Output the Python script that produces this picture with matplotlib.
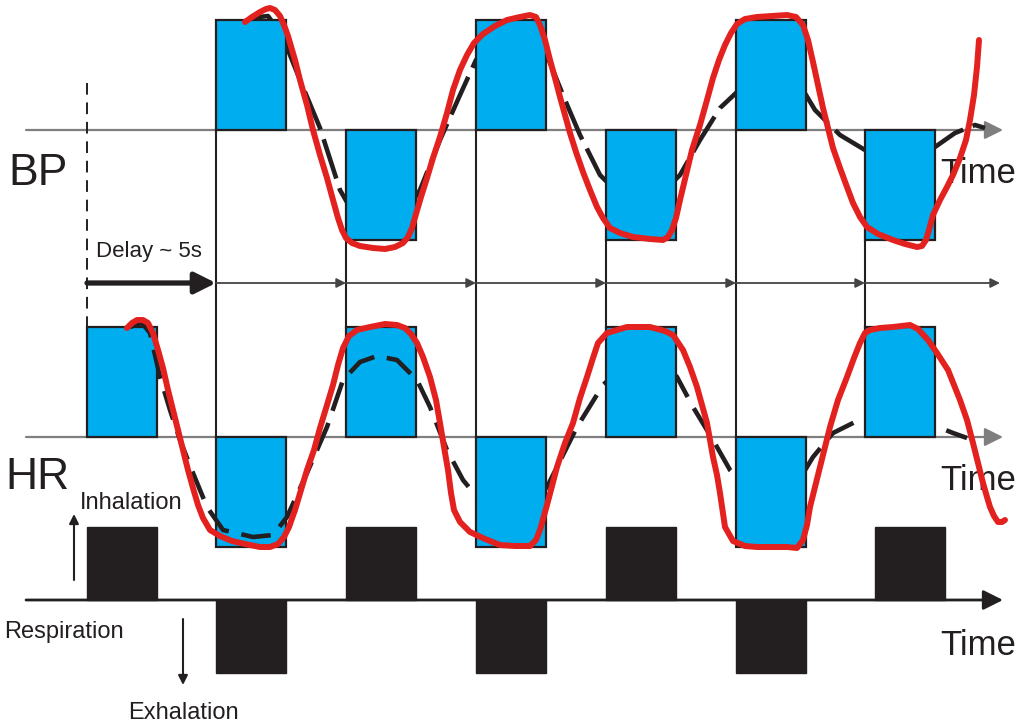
import matplotlib
matplotlib.use("Agg")
import matplotlib.pyplot as plt

plt.rcParams['font.family'] = ['Liberation Sans', 'DejaVu Sans']

# bar start positions (left edges) and direction (+1 up, -1 down)
bp_start = [216, 346, 476, 606, 736, 865]
bp_sign = [1, -1, 1, -1, 1, -1]
hr_start = [87, 216, 346, 476, 606, 736, 865]
hr_sign = [1, -1, 1, -1, 1, -1, 1]
resp_start = [87, 216, 346, 476, 606, 736, 875]
resp_sign = [1, -1, 1, -1, 1, -1, 1]

# traced curves
bp_dash_x = [250, 268, 282, 300, 320, 340, 360, 380, 400, 420, 440, 460, 476, 495, 510, 530, 548,
             565, 580, 600, 620, 640, 660, 680, 700, 720, 736, 760, 780, 800, 815, 840, 865, 890,
             915, 935, 955, 975, 985]
bp_dash_y = [18, 16, 35, 80, 128, 190, 225, 232, 222, 190, 140, 95, 60, 35, 28, 35, 58,
             100, 135, 175, 195, 200, 195, 175, 140, 108, 93, 75, 72, 85, 110, 135, 150, 160,
             158, 147, 133, 125, 128]
bp_red_x = [245, 252, 260, 266, 270, 275, 280, 284, 288, 295, 300, 307, 313, 320, 327, 333, 338,
            342, 346, 352, 360, 373, 385, 395, 403, 408, 412, 416, 421, 427, 433, 440, 447, 453,
            460, 467, 474, 483, 495, 507, 520, 530, 536, 540, 545, 550, 555, 560, 565, 570, 576,
            583, 590, 597, 603, 610, 620, 633, 650, 663, 668, 672, 676, 680, 686, 692, 700, 707,
            713, 719, 725, 731, 737, 745, 757, 772, 787, 796, 803, 808, 813, 818, 823, 828, 833,
            840, 847, 853, 860, 867, 878, 893, 905, 917, 922, 926, 929, 933, 940, 947, 953, 960,
            966, 970, 974, 977, 979]
bp_red_y = [22, 17, 12, 9, 8, 10, 16, 25, 36, 60, 80, 105, 130, 155, 178, 200, 218,
            230, 238, 243, 246, 248, 249, 247, 243, 237, 228, 214, 197, 178, 158, 137, 113, 90,
            70, 55, 43, 34, 26, 20, 17, 15, 17, 25, 40, 60, 78, 97, 115, 133, 152,
            172, 190, 207, 218, 228, 233, 237, 239, 240, 237, 230, 218, 200, 175, 150, 125, 100,
            78, 60, 45, 33, 24, 19, 17, 16, 15, 17, 25, 40, 62, 85, 108, 128, 148,
            168, 187, 203, 217, 227, 234, 240, 244, 247, 246, 240, 230, 215, 200, 187, 175, 158,
            140, 120, 95, 67, 40]
hr_dash_x = [130, 142, 150, 160, 170, 180, 193, 207, 223, 253, 273, 287, 307, 327, 343, 360, 377,
             397, 417, 430, 447, 463, 477, 500, 520, 547, 577, 603, 630, 655, 677, 693, 713, 730,
             760, 790, 813, 833, 853, 865, 900, 933, 953, 967]
hr_dash_y = [327, 323, 333, 377, 410, 440, 473, 507, 530, 537, 535, 517, 473, 427, 380, 362, 356,
             360, 380, 407, 450, 480, 497, 520, 520, 487, 427, 385, 360, 355, 377, 407, 440, 470,
             500, 495, 457, 433, 423, 417, 412, 425, 433, 438]
hr_red_x = [127, 132, 137, 143, 148, 153, 158, 163, 168, 173, 178, 183, 188, 193, 198, 203, 210,
            220, 232, 245, 260, 270, 278, 284, 289, 295, 301, 307, 314, 320, 327, 333, 338, 343,
            349, 357, 370, 385, 397, 405, 411, 417, 423, 430, 436, 440, 444, 448, 451, 454, 460,
            470, 485, 500, 515, 530, 536, 540, 547, 557, 565, 573, 580, 587, 593, 598, 607, 627,
            650, 665, 673, 683, 690, 697, 702, 707, 713, 717, 720, 725, 733, 745, 757, 772, 787,
            797, 803, 807, 810, 815, 820, 825, 830, 838, 847, 854, 860, 865, 870, 880, 893, 910,
            918, 928, 937, 948, 960, 967, 973, 978, 983, 987, 990, 994, 998, 1002, 1005]
hr_red_y = [328, 323, 320, 320, 323, 333, 350, 368, 390, 410, 430, 450, 470, 488, 505, 518, 530,
            536, 541, 544, 547, 547, 544, 537, 527, 510, 490, 470, 450, 428, 405, 385, 365, 348,
            336, 330, 327, 324, 325, 328, 334, 343, 357, 377, 400, 423, 447, 470, 493, 510, 522,
            532, 539, 545, 546, 546, 540, 530, 505, 467, 443, 423, 398, 377, 358, 343, 333, 327,
            327, 331, 335, 350, 367, 387, 405, 423, 457, 475, 493, 527, 541, 546, 547, 547, 547,
            548, 540, 525, 507, 487, 467, 447, 427, 400, 377, 358, 343, 333, 330, 328, 327, 325,
            329, 340, 353, 370, 400, 420, 443, 463, 483, 497, 507, 516, 522, 522, 520]

blue = '#00adee'
edge = '#231f20'
red = '#e3211f'
bar_w = 70
bp_base, bp_amp = 130, 110
hr_base, hr_amp = 437, 110
resp_base, resp_amp = 600, 73

fig = plt.figure(figsize=(10.24, 7.24), dpi=100)
ax = fig.add_axes([0, 0, 1, 1])
ax.set_xlim(0, 1024)
ax.set_ylim(724, 0)
ax.axis('off')

# baselines with arrows
for yb in [bp_base, hr_base]:
    ax.annotate('', xy=(1003, yb), xytext=(26, yb),
                arrowprops=dict(arrowstyle='-|>', color='#7f7f7f', lw=1.6, mutation_scale=28,
                                shrinkA=0, shrinkB=0), zorder=1)
ax.annotate('', xy=(1003, resp_base), xytext=(26, resp_base),
            arrowprops=dict(arrowstyle='-|>', color=edge, lw=2.0, mutation_scale=30,
                            shrinkA=0, shrinkB=0), zorder=1)

# BP dashed curve below bars
ax.plot(bp_dash_x, bp_dash_y, color=edge, lw=3.3, ls=(0, (9, 2.2)), zorder=2)

# bars
ax.bar(bp_start, [-s * bp_amp for s in bp_sign], width=bar_w, bottom=bp_base, align='edge',
       color=blue, edgecolor=edge, lw=1.6, zorder=3)
for i, (x0, s) in enumerate(zip(hr_start, hr_sign)):
    ax.bar(x0, -s * hr_amp, width=bar_w, bottom=hr_base, align='edge',
           color=blue, edgecolor=edge, lw=1.6, zorder=3 if i < 3 else 5)
ax.bar(resp_start, [-s * resp_amp for s in resp_sign], width=bar_w, bottom=resp_base,
       align='edge', color=edge, edgecolor=edge, lw=1.0, zorder=3)

# HR dashed curve (above the first bars, under the later ones)
ax.plot(hr_dash_x, hr_dash_y, color=edge, lw=3.3, ls=(0, (6.5, 2.8)), zorder=4)

# vertical connectors
for x0, sb, sh in zip(bp_start, bp_sign, hr_sign[1:]):
    y_top = bp_base if sb > 0 else bp_base + bp_amp
    y_bot = hr_base if sh < 0 else hr_base - hr_amp
    ax.plot([x0, x0], [y_top, y_bot], color=edge, lw=1.5, zorder=2)
ax.plot([hr_start[0], hr_start[0]], [83, hr_base - hr_amp], color=edge, lw=1.4,
        ls=(0, (6, 4)), zorder=2)

# delay arrows
ax.annotate('', xy=(bp_start[0], 283), xytext=(hr_start[0], 283),
            arrowprops=dict(arrowstyle='-|>', color=edge, lw=3.8, mutation_scale=32,
                            shrinkA=0, shrinkB=0), zorder=4)
stops = bp_start + [1000]
for a, b in zip(stops[:-1], stops[1:]):
    ax.annotate('', xy=(b, 283), xytext=(a, 283),
                arrowprops=dict(arrowstyle='-|>', color='#444444', lw=1.3, mutation_scale=14,
                                shrinkA=0, shrinkB=0), zorder=2)

# red hand-drawn curves
ax.plot(bp_red_x, bp_red_y, color=red, lw=4.3, solid_capstyle='round',
        solid_joinstyle='round', zorder=6)
ax.plot(hr_red_x, hr_red_y, color=red, lw=4.3, solid_capstyle='round',
        solid_joinstyle='round', zorder=6)

# respiration arrows
ax.annotate('', xy=(74, 514), xytext=(74, 580),
            arrowprops=dict(arrowstyle='-|>', color=edge, lw=1.5, mutation_scale=14,
                            shrinkA=0, shrinkB=0))
ax.annotate('', xy=(183, 685), xytext=(183, 619),
            arrowprops=dict(arrowstyle='-|>', color=edge, lw=1.5, mutation_scale=14,
                            shrinkA=0, shrinkB=0))

# labels
ax.text(8, 185, 'BP', fontsize=32, color=edge, va='baseline')
ax.text(5, 489, 'HR', fontsize=32, color=edge, va='baseline')
for yb in [183, 490, 655]:
    ax.text(940, yb, 'Time', fontsize=25, color=edge, va='baseline', zorder=5)
ax.text(96, 257, 'Delay ~ 5s', fontsize=16, color=edge, va='baseline')
ax.text(80, 509, 'Inhalation', fontsize=17, color=edge, va='baseline')
ax.text(4, 638, 'Respiration', fontsize=17, color=edge, va='baseline')
ax.text(128, 719, 'Exhalation', fontsize=17, color=edge, va='baseline')

fig.savefig('out.png', dpi=100)
